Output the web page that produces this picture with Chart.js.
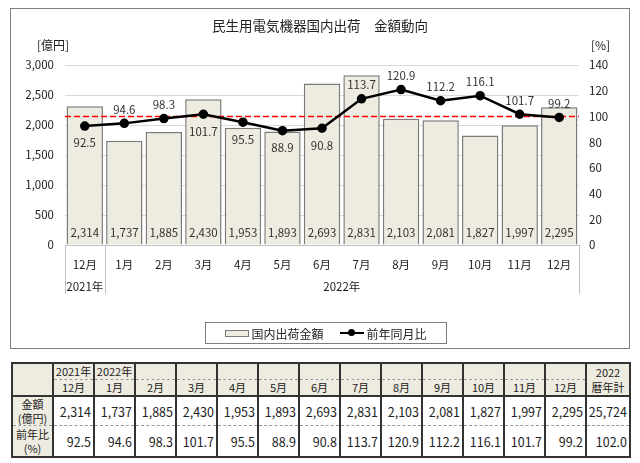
<!DOCTYPE html>
<html lang="ja">
<head>
<meta charset="utf-8">
<script src="https://cdn.jsdelivr.net/npm/chart.js@4.4.1/dist/chart.umd.min.js"></script>
<style>
  body { margin: 0; width: 640px; height: 463px; background: #fff; position: relative; overflow: hidden;
         font-family: "Noto Sans CJK JP", "Noto Sans", sans-serif; color: #222; }
  #box { position: absolute; left: 10px; top: 8px; width: 618px; height: 339px; border: 1px solid #7f7f7f; }
  #box canvas { position: absolute; left: 0; top: 0; }
  .txt { position: absolute; white-space: nowrap; line-height: 16px; }
  #title { left: 0; width: 618px; top: 8px; text-align: center; font-size: 13.5px; }
  #unitL { left: 26px; top: 28px; font-size: 12px; }
  #unitR { left: 580px; top: 28px; font-size: 12px; }
  #legend { position: absolute; left: 194px; top: 313px; width: 240px; height: 20px; border: 1px solid #7f7f7f;
            display: flex; align-items: center; justify-content: center; font-size: 12px; gap: 16px; }
  .lg { display: flex; align-items: center; }
  .sw-bar { width: 22px; height: 5px; border: 1px solid #7a7a7a; background: #eeebe0; margin-right: 2px; }
  .sw-line { position: relative; width: 24px; height: 2px; background: #000; margin-right: 3px; }
  .sw-line::after { content: ""; position: absolute; left: 8px; top: -3px; width: 7px; height: 7px; border-radius: 50%; background: #000; }

  #tbl { position: absolute; left: 11px; top: 362px; border-collapse: collapse; table-layout: fixed; width: 618px;
         border: 2px solid #333; font-size: 12.5px; }
  #tbl td { border-left: 2px solid #333; border-right: 2px solid #333; padding: 0 2px 0 0; text-align: right; white-space: nowrap; overflow: hidden; }
  #tbl td.hd { background: #eeebe0; text-align: center; font-size: 11px; padding: 0; line-height: 13px; }
  #tbl tr.h1 td { height: 15px; border-bottom: 1px dashed #999; }
  #tbl tr.h2 td { height: 15px; border-bottom: 2px solid #333; }
  #tbl tr.r1 td { height: 28px; border-bottom: 1px dashed #999; }
  #tbl tr.r2 td { height: 30px; }
</style>
</head>
<body>
<div id="box">
  <canvas id="chart" width="618" height="339"></canvas>
  <div class="txt" id="title">民生用電気機器国内出荷　金額動向</div>
  <div class="txt" id="unitL">[億円]</div>
  <div class="txt" id="unitR">[%]</div>
  <div id="legend">
    <div class="lg"><span class="sw-bar"></span>国内出荷金額</div>
    <div class="lg"><span class="sw-line"></span>前年同月比</div>
  </div>
</div>
<table id="tbl"></table>

<script>
// data
const months = ['12月', '1月', '2月', '3月', '4月', '5月', '6月', '7月', '8月', '9月', '10月', '11月', '12月'];
const years = ['2021年', '2022年'];
const yearSpans = [1, 12];
const amounts = [2314, 1737, 1885, 2430, 1953, 1893, 2693, 2831, 2103, 2081, 1827, 1997, 2295];
const yoy = [92.5, 94.6, 98.3, 101.7, 95.5, 88.9, 90.8, 113.7, 120.9, 112.2, 116.1, 101.7, 99.2];
const yoyLabelSide = ['below', 'above', 'above', 'below', 'below', 'below', 'below', 'above', 'above', 'above', 'above', 'above', 'above'];
const refLine = 100;
const totalLabel = ['2022', '暦年計'];
const totalAmount = 25724;
const totalYoy = 102.0;

const FONT = '"Noto Sans CJK JP", "Noto Sans", sans-serif';
const fmt = v => v.toLocaleString('en-US');

// red dashed 100% line, drawn right after the bars so the line stays on top
const refLinePlugin = {
    id: 'refLine',
    afterDatasetDraw(chart, args) {
        if (args.index !== 0) return;
        const ctx = chart.ctx;
        const y = chart.scales.y1.getPixelForValue(refLine);
        ctx.save();
        ctx.strokeStyle = '#ff0000';
        ctx.lineWidth = 1.5;
        ctx.setLineDash([6, 3]);
        ctx.beginPath();
        ctx.moveTo(chart.chartArea.left, y);
        ctx.lineTo(chart.chartArea.right, y);
        ctx.stroke();
        ctx.restore();
    }
};

const labelPlugin = {
    id: 'valueLabels',
    afterDatasetsDraw(chart) {
        const ctx = chart.ctx;
        ctx.save();
        ctx.font = '11.5px ' + FONT;
        ctx.fillStyle = '#333';
        ctx.textAlign = 'center';
        ctx.textBaseline = 'middle';
        chart.getDatasetMeta(0).data.forEach((bar, i) => {
            ctx.fillText(fmt(amounts[i]), bar.x, bar.base - 12);
        });
        chart.getDatasetMeta(1).data.forEach((pt, i) => {
            const dy = yoyLabelSide[i] === 'below' ? 17 : -14;
            ctx.fillText(yoy[i].toFixed(1), pt.x, pt.y + dy);
        });
        ctx.restore();
    }
};

// year row under the month labels, with group separators
const yearPlugin = {
    id: 'yearRow',
    afterDraw(chart) {
        const ctx = chart.ctx;
        const xs = chart.scales.x;
        const bottom = chart.chartArea.bottom;
        const edge = i => xs.getPixelForValue(i - 0.5);
        ctx.save();
        ctx.strokeStyle = '#bfbfbf';
        ctx.lineWidth = 1;
        ctx.font = '11.5px ' + FONT;
        ctx.fillStyle = '#222';
        ctx.textAlign = 'center';
        ctx.textBaseline = 'middle';
        let start = 0;
        const cuts = [0];
        years.forEach((yr, g) => {
            const l = edge(start), r = edge(start + yearSpans[g]);
            ctx.fillText(yr, (l + r) / 2, bottom + 42);
            start += yearSpans[g];
            cuts.push(start);
        });
        cuts.forEach(c => {
            const x = Math.round(edge(c)) + 0.5;
            ctx.beginPath();
            ctx.moveTo(x, bottom);
            ctx.lineTo(x, bottom + 49);
            ctx.stroke();
        });
        ctx.restore();
    }
};

new Chart(document.getElementById('chart'), {
    data: {
        labels: months,
        datasets: [
            {
                type: 'bar',
                label: '国内出荷金額',
                data: amounts,
                yAxisID: 'y',
                backgroundColor: '#eeebe0',
                borderColor: '#7a7a7a',
                borderWidth: 1.5,
                barPercentage: 0.92,
                categoryPercentage: 1,
                order: 1
            },
            {
                type: 'line',
                label: '前年同月比',
                data: yoy,
                yAxisID: 'y1',
                borderColor: '#000',
                borderWidth: 2.5,
                pointRadius: 3.5,
                pointBackgroundColor: '#000',
                pointBorderColor: '#000',
                tension: 0,
                order: 0
            }
        ]
    },
    options: {
        responsive: false,
        animation: false,
        locale: 'en-US',
        layout: { padding: { top: 56, bottom: 0, left: 0, right: 0 } },
        plugins: {
            legend: { display: false },
            tooltip: { enabled: false }
        },
        scales: {
            x: {
                grid: { display: false },
                border: { display: true, color: '#bfbfbf' },
                ticks: { font: { family: FONT, size: 11.5 }, color: '#222', padding: 5, maxRotation: 0, autoSkip: false },
                afterFit: s => { s.height = 103; }
            },
            y: {
                position: 'left',
                min: 0, max: 3000,
                grid: { color: '#d9d9d9', drawTicks: false },
                border: { display: false },
                ticks: { stepSize: 500, font: { family: FONT, size: 11.5 }, color: '#222', padding: 11 },
                afterFit: s => { s.width = 54; }
            },
            y1: {
                position: 'right',
                min: 0, max: 140,
                grid: { display: false, drawTicks: false },
                border: { display: false },
                ticks: { stepSize: 20, font: { family: FONT, size: 11.5 }, color: '#222', padding: 10 },
                afterFit: s => { s.width = 50; }
            }
        }
    },
    plugins: [refLinePlugin, labelPlugin, yearPlugin]
});

// summary table
function buildTable() {
    let h1 = '<tr class="h1"><td class="hd" rowspan="2" style="border-bottom:2px solid #333"></td>';
    let h2 = '<tr class="h2">';
    let r1 = '<tr class="r1"><td class="hd" style="line-height:14px">金額<br>(億円)</td>';
    let r2 = '<tr class="r2"><td class="hd" style="line-height:14px">前年比<br>(%)</td>';
    let yearIdx = 0, col = 0;
    months.forEach((m, i) => {
        const top = (i === col) ? years[yearIdx] : '';
        if (i === col) { col += yearSpans[yearIdx]; yearIdx++; }
        h1 += `<td class="hd">${top}</td>`;
        h2 += `<td class="hd">${m}</td>`;
        r1 += `<td>${fmt(amounts[i])}</td>`;
        r2 += `<td>${yoy[i].toFixed(1)}</td>`;
    });
    h1 += `<td class="hd" rowspan="2" style="border-bottom:2px solid #333;line-height:15px">${totalLabel[0]}<br>${totalLabel[1]}</td></tr>`;
    r1 += `<td>${fmt(totalAmount)}</td></tr>`;
    r2 += `<td>${totalYoy.toFixed(1)}</td></tr>`;
    let cols = '<colgroup><col style="width:41px">';
    months.forEach(() => { cols += '<col style="width:41px">'; });
    cols += '<col style="width:44px"></colgroup>';
    document.getElementById('tbl').innerHTML = cols + h1 + '</tr>' + h2 + '</tr>' + r1 + r2;
}
buildTable();
</script>
</body>
</html>
